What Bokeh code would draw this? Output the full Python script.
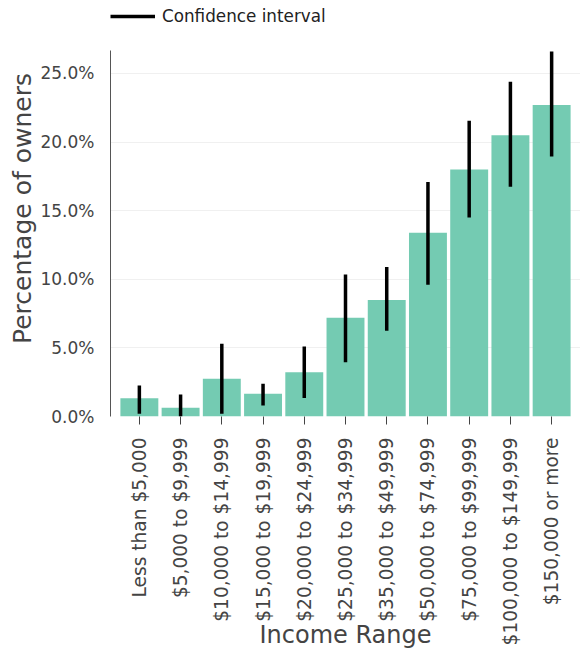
from bokeh.plotting import figure
from bokeh.models import (ColumnDataSource, FactorRange, Range1d, PrintfTickFormatter,
                          Legend, LegendItem, FixedTicker)
from bokeh.embed import file_html
from bokeh.resources import INLINE
import math

categories = ["Less than $5,000", "$5,000 to $9,999", "$10,000 to $14,999",
              "$15,000 to $19,999", "$20,000 to $24,999", "$25,000 to $34,999",
              "$35,000 to $49,999", "$50,000 to $74,999", "$75,000 to $99,999",
              "$100,000 to $149,999", "$150,000 or more"]
pct_owners = [1.33, 0.63, 2.75, 1.65, 3.23, 7.2, 8.5, 13.4, 18.0, 20.5, 22.7]
ci_low = [0.2, 0.0, 0.2, 0.8, 1.35, 3.95, 6.25, 9.6, 14.5, 16.75, 18.95]
ci_high = [2.26, 1.6, 5.3, 2.38, 5.1, 10.35, 10.9, 17.1, 21.55, 24.4, 26.6]
y_ticks = [0, 5, 10, 15, 20, 25]
y_axis_max = 26.7

FONT = "DejaVu Sans"
TXT = "#444444"

src = ColumnDataSource(dict(cat=categories, pct=pct_owners, lo=ci_low, hi=ci_high))

p = figure(width=580, height=662, output_backend="svg", toolbar_location=None,
           x_range=FactorRange(*categories, range_padding=0.2, range_padding_units="absolute"),
           y_range=Range1d(0, 30.32),
           min_border_left=110, min_border_right=0, min_border_top=0, min_border_bottom=246)
p.outline_line_color = None
p.background_fill_color = "white"

p.vbar(x="cat", top="pct", width=0.92, source=src, fill_color="#74cbb2", line_color=None)
ci = p.segment(x0="cat", y0="lo", x1="cat", y1="hi", source=src,
               line_color="black", line_width=3.5)

# grid
p.xgrid.grid_line_color = None
p.ygrid.grid_line_color = "#f0f0f0"
p.ygrid.ticker = FixedTicker(ticks=y_ticks)

# y axis
p.yaxis.ticker = FixedTicker(ticks=y_ticks)
p.yaxis.bounds = (0, y_axis_max)
p.yaxis.formatter = PrintfTickFormatter(format="%.1f%%")
p.yaxis.axis_label = "Percentage of owners"
p.yaxis.axis_label_text_font = FONT
p.yaxis.axis_label_text_font_size = "25px"
p.yaxis.axis_label_text_font_style = "normal"
p.yaxis.axis_label_text_color = TXT
p.yaxis.axis_label_standoff = 0
p.yaxis.major_label_text_font = FONT
p.yaxis.major_label_text_font_size = "17px"
p.yaxis.major_label_text_color = TXT
p.yaxis.major_label_standoff = 10
p.yaxis.major_tick_line_color = None
p.yaxis.minor_tick_line_color = None
p.yaxis.axis_line_color = "#555555"

# x axis
p.xaxis.axis_label = "Income Range"
p.xaxis.axis_label_text_font = FONT
p.xaxis.axis_label_text_font_size = "24px"
p.xaxis.axis_label_text_font_style = "normal"
p.xaxis.axis_label_text_color = TXT
p.xaxis.axis_label_standoff = -27
p.xaxis.major_label_text_font = FONT
p.xaxis.major_label_text_font_size = "18.6px"
p.xaxis.major_label_text_color = TXT
p.xaxis.major_label_orientation = math.pi / 2
p.xaxis.major_label_standoff = 13
p.xaxis.axis_line_color = None
p.xaxis.major_tick_line_color = TXT
p.xaxis.major_tick_in = 0
p.xaxis.major_tick_out = 8

legend = Legend(items=[LegendItem(label="Confidence interval", renderers=[ci])],
                orientation="horizontal", location=(0, 390),
                padding=0, margin=0, glyph_width=45, glyph_height=18, label_standoff=7,
                border_line_color=None, background_fill_alpha=0,
                label_text_font=FONT, label_text_font_size="16.8px", label_text_color="#222222")
p.add_layout(legend)

open("out.html", "w").write(file_html(p, INLINE))
